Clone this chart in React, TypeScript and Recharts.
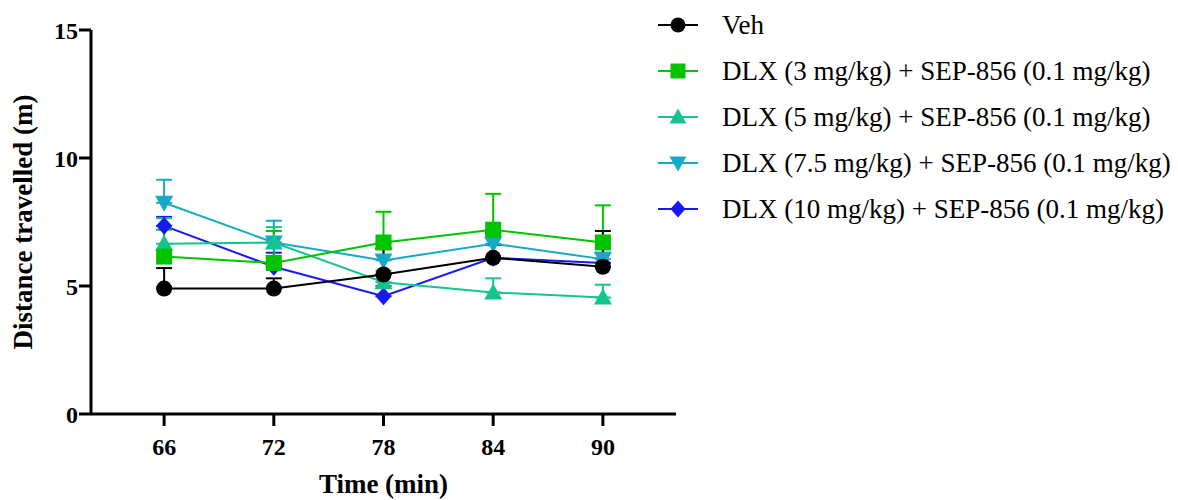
import React from "react";
import { LineChart, Line, XAxis, YAxis, ErrorBar } from "recharts";

const times = [66, 72, 78, 84, 90];
const yTicks = [0, 5, 10, 15];

const seriesNames = [
  "Veh",
  "DLX (3 mg/kg) + SEP-856 (0.1 mg/kg)",
  "DLX (5 mg/kg) + SEP-856 (0.1 mg/kg)",
  "DLX (7.5 mg/kg) + SEP-856 (0.1 mg/kg)",
  "DLX (10 mg/kg) + SEP-856 (0.1 mg/kg)",
];

// means and upper SEM limits
const veh = [4.9, 4.9, 5.45, 6.1, 5.75];
const vehUpper = [5.7, 5.3, 6.45, 7.05, 7.15];
const dlx3 = [6.15, 5.9, 6.7, 7.2, 6.7];
const dlx3Upper = [7.2, 7.15, 7.9, 8.6, 8.15];
const dlx5 = [6.65, 6.7, 5.15, 4.75, 4.55];
const dlx5Upper = [7.65, 7.3, 5.6, 5.3, 5.05];
const dlx75 = [8.25, 6.7, 6.0, 6.65, 6.05];
const dlx75Upper = [9.15, 7.55, 6.5, 7.1, 6.5];
const dlx10 = [7.35, 5.75, 4.6, 6.1, 5.9];
const dlx10Upper = [7.7, 6.3, 5.0, 6.6, 6.3];

const colors = ["#000000", "#00c400", "#14c48e", "#18a8c8", "#1818f2"];
const shapes = ["circle", "square", "triangle", "triangleDown", "diamond"];
const keys = ["veh", "dlx3", "dlx5", "dlx75", "dlx10"];
const means = [veh, dlx3, dlx5, dlx75, dlx10];
const uppers = [vehUpper, dlx3Upper, dlx5Upper, dlx75Upper, dlx10Upper];

const data = times.map((t, i) => {
  const row: Record<string, any> = { time: t };
  keys.forEach((k, s) => {
    row[k] = means[s][i];
    row[k + "Err"] = [0, +(uppers[s][i] - means[s][i]).toFixed(2)];
  });
  return row;
});

const FONT = "'Liberation Serif', 'Times New Roman', serif";

function Marker({ shape, cx, cy, color, size = 8 }: any) {
  if (cx == null || cy == null) return null;
  const r = size;
  if (shape === "circle") return <circle cx={cx} cy={cy} r={r} fill={color} />;
  if (shape === "square")
    return <rect x={cx - r} y={cy - r} width={r * 2} height={r * 2} fill={color} />;
  if (shape === "triangle")
    return (
      <polygon
        points={`${cx},${cy - r - 1} ${cx - r - 1},${cy + r - 1} ${cx + r + 1},${cy + r - 1}`}
        fill={color}
      />
    );
  if (shape === "triangleDown")
    return (
      <polygon
        points={`${cx},${cy + r + 1} ${cx - r - 1},${cy - r + 1} ${cx + r + 1},${cy - r + 1}`}
        fill={color}
      />
    );
  return (
    <polygon
      points={`${cx},${cy - r - 1} ${cx + r},${cy} ${cx},${cy + r + 1} ${cx - r},${cy}`}
      fill={color}
    />
  );
}

const makeDot = (shape: string, color: string) => (p: any) =>
  <Marker key={`${shape}-${p.index}`} shape={shape} cx={p.cx} cy={p.cy} color={color} />;

function LegendBox() {
  return (
    <svg width={523} height={240} style={{ position: "absolute", left: 655, top: 0 }}>
      {seriesNames.map((name, i) => {
        const y = 25 + i * 46;
        return (
          <g key={name}>
            <line x1={3} x2={43} y1={y} y2={y} stroke={colors[i]} strokeWidth={2} />
            <Marker shape={shapes[i]} cx={23} cy={y} color={colors[i]} size={7.5} />
            <text x={67} y={y} dy="0.35em" fontFamily={FONT} fontSize={27} fill="#000">
              {name}
            </text>
          </g>
        );
      })}
    </svg>
  );
}

export default function App() {
  const order = [4, 3, 2, 1, 0];
  return (
    <div style={{ position: "absolute", left: 0, top: 0, width: 1178, height: 500, background: "#fff" }}>
      <LineChart
        width={1178}
        height={500}
        data={data}
        margin={{ top: 30, right: 502, left: 11, bottom: 2 }}
      >
        <XAxis
          type="number"
          dataKey="time"
          domain={[62, 94]}
          ticks={times}
          stroke="#000"
          strokeWidth={3}
          tickSize={12}
          tickMargin={12}
          tick={{ fill: "#000", fontSize: 24, fontWeight: 700, fontFamily: FONT }}
          height={84}
          label={{
            value: "Time (min)",
            position: "insideBottom",
            offset: 5,
            style: { fontSize: 27, fontWeight: 700, fontFamily: FONT, fill: "#000" },
          }}
        />
        <YAxis
          domain={[0, 15]}
          ticks={yTicks}
          stroke="#000"
          strokeWidth={3}
          tickSize={12}
          tickMargin={1}
          width={80}
          tick={{ fill: "#000", fontSize: 24, fontWeight: 700, fontFamily: FONT }}
          label={{
            value: "Distance travelled (m)",
            angle: -90,
            position: "insideLeft",
            offset: 11,
            style: {
              textAnchor: "middle",
              fontSize: 27,
              fontWeight: 700,
              fontFamily: FONT,
              fill: "#000",
            },
          }}
        />
        {order.map((s) => (
          <Line
            key={keys[s]}
            dataKey={keys[s]}
            name={seriesNames[s]}
            stroke={colors[s]}
            strokeWidth={2}
            dot={makeDot(shapes[s], colors[s])}
            activeDot={false}
            isAnimationActive={false}
          >
            <ErrorBar
              dataKey={keys[s] + "Err"}
              direction="y"
              width={8}
              stroke={colors[s]}
              strokeWidth={2}
              isAnimationActive={false}
            />
          </Line>
        ))}
      </LineChart>
      <LegendBox />
    </div>
  );
}
